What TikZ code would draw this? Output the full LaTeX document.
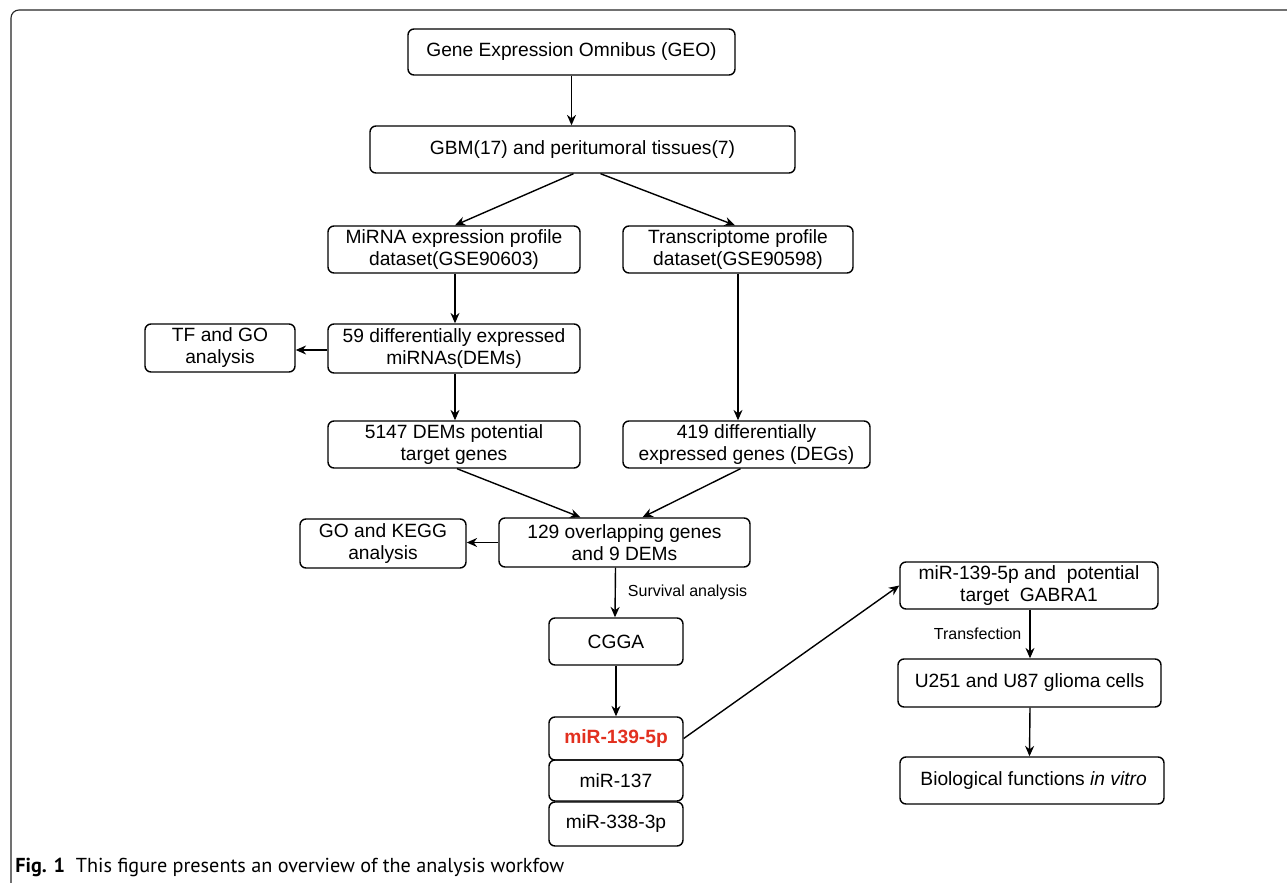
\documentclass[tikz,border=0pt]{standalone}
\usepackage{fontspec}
\setmainfont{Liberation Sans}
\newfontfamily\capfont{PT Sans}
\usetikzlibrary{arrows.meta,calc}
\definecolor{hired}{HTML}{E2301F}
\begin{document}
\begin{tikzpicture}[x=0.5pt,y=-0.5pt,
  box/.style={draw=black,line width=0.7pt,rounded corners=3pt,align=center,inner sep=0pt,font=\fontsize{9.6}{11}\selectfont},
  arr/.style={line width=0.7pt,-{Stealth[length=5.2pt,width=4.5pt]}},
  lab/.style={font=\fontsize{8}{9}\selectfont,inner sep=0pt}]
\useasboundingbox (0,0) rectangle (1287,883);
\fill[white] (0,0) rectangle (1287,883);
\draw[line width=0.55pt,draw=black!85,rounded corners=4pt] (11,883) -- (11,10) -- (1287,10);
\node[box,minimum width=163.5pt,minimum height=23pt] (geo) at (571.5,52) {Gene Expression Omnibus (GEO)};
\node[box,minimum width=212.5pt,minimum height=23.5pt] (gbm) at (582.5,149.5) {GBM(17) and peritumoral tissues(7)};
\node[box,minimum width=126pt,minimum height=23.5pt] (mirna) at (454,249.5) {MiRNA expression profile\\dataset(GSE90603)};
\node[box,minimum width=115pt,minimum height=23.5pt] (trans) at (738,249.5) {Transcriptome profile\\dataset(GSE90598)};
\node[box,minimum width=75pt,minimum height=24pt] (tfgo) at (220,348) {TF and GO\\analysis};
\node[box,minimum width=126pt,minimum height=24.5pt] (dem) at (454,348.5) {59 differentially expressed\\miRNAs(DEMs)};
\node[box,minimum width=126pt,minimum height=23.5pt] (targ) at (454,444.5) {5147 DEMs potential\\target genes};
\node[box,minimum width=123.5pt,minimum height=23.5pt] (deg) at (746.5,444.5) {419 differentially\\expressed genes (DEGs)};
\node[box,minimum width=83pt,minimum height=24.5pt] (kegg) at (383,543.5) {GO and KEGG\\analysis};
\node[box,minimum width=125.5pt,minimum height=24.5pt] (ovl) at (624.5,542.5) {129 overlapping genes\\and 9 DEMs};
\node[box,minimum width=67pt,minimum height=23.5pt] (cgga) at (616,641.5) {CGGA};
\node[box,minimum width=67pt,minimum height=21.5pt,text=hired,font=\fontsize{9.6}{11}\selectfont\bfseries] (m139) at (616,738.5) {miR-139-5p};
\node[box,minimum width=67pt,minimum height=20.5pt] (m137) at (616,780.5) {miR-137};
\node[box,minimum width=67pt,minimum height=22pt] (m338) at (616,824) {miR-338-3p};
\node[box,minimum width=129pt,minimum height=23.5pt] (gab) at (1029,585.5) {miR-139-5p and\ \ potential\\target\ \ GABRA1};
\node[box,minimum width=131.5pt,minimum height=24pt] (u251) at (1029.5,683) {U251 and U87 glioma cells};
\node[box,minimum width=132pt,minimum height=23.5pt] (bio) at (1032,780.5) {\,Biological functions \textit{in vitro}};
\draw[arr] (geo.south) -- (geo.south |- gbm.north);
\draw[arr] ($(gbm.south)+(-9,0)$) -- ($(mirna.north)+(1,0)$);
\draw[arr] ($(gbm.south)+(18,0)$) -- ($(trans.north)+(-3,0)$);
\draw[arr] ($(mirna.south)+(1,0)$) -- ($(dem.north)+(1,0)$);
\draw[arr] (dem.west |- 0,350) -- (tfgo.east |- 0,350);
\draw[arr] ($(dem.south)+(1,0)$) -- ($(targ.north)+(1,0)$);
\draw[arr] (trans.south) -- (deg.north -| trans.south);
\draw[arr] ($(targ.south)+(3,0)$) -- ($(ovl.north)+(-44,0)$);
\draw[arr] ($(deg.south)+(-6,0)$) -- ($(ovl.north)+(18,0)$);
\draw[arr] (ovl.west) -- (kegg.east |- ovl.west);
\draw[arr] ($(ovl.south)+(-9,0)$) -- ($(cgga.north)+(-1,0)$) node[lab,pos=0.5,anchor=west,xshift=6pt] {Survival analysis};
\draw[arr] (cgga.south) -- (m139.north);
\draw[arr] (m139.east) -- (gab.west);
\draw[arr] ($(gab.south)+(1,0)$) -- ($(u251.north)+(0.5,0)$) node[lab,pos=0.5,anchor=east,xshift=-4pt] {Transfection};
\draw[arr] ($(u251.south)+(0.5,0)$) -- ($(bio.north)+(-2.5,0)$);
\node[anchor=base west,inner sep=0pt,font=\capfont\fontsize{10.1}{12}\selectfont] (cap) at (15,872) {\textbf{Fig. 1}\ \ This figure presents an overview of the analysis workfow};
\end{tikzpicture}
\end{document}
